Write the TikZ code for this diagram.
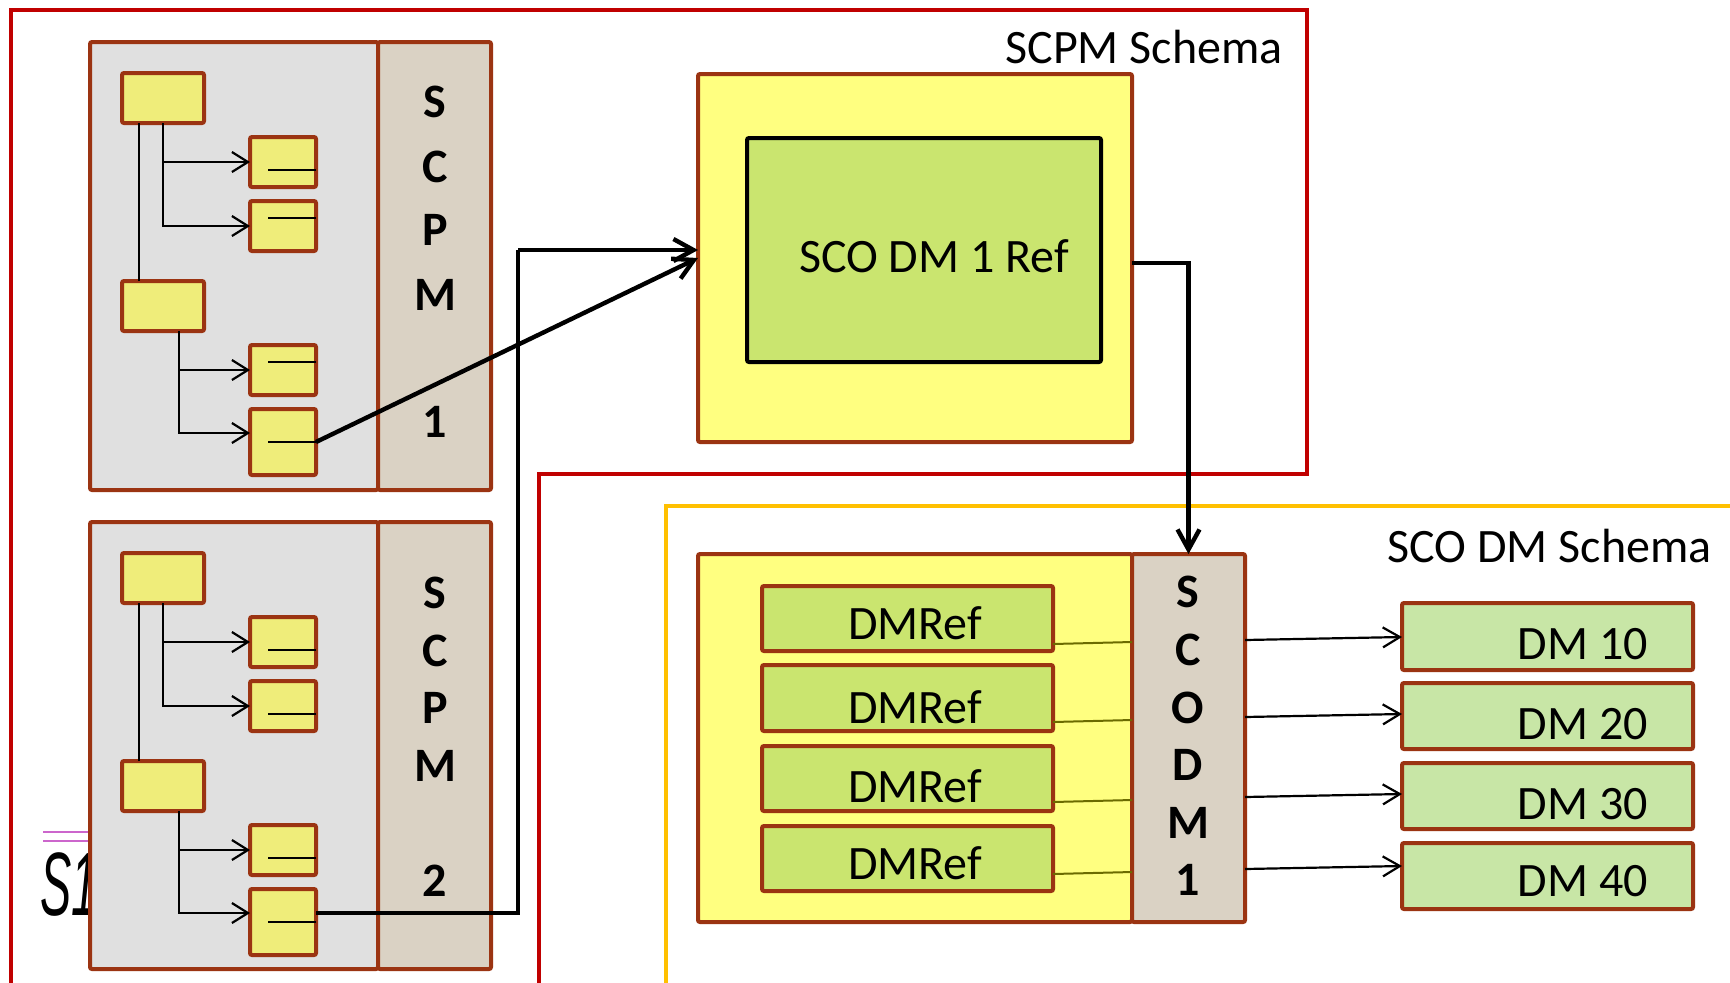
\documentclass[tikz,border=0pt]{standalone}
\usepackage{fontspec}
\setmainfont{Carlito}
\newfontfamily\arialfam{Liberation Sans}
\usetikzlibrary{arrows.meta,fit}

\definecolor{brn}{RGB}{155,52,18}
\definecolor{grayfill}{RGB}{224,224,224}
\definecolor{tanfill}{RGB}{218,210,196}
\definecolor{ysmall}{RGB}{239,237,122}
\definecolor{ybig}{RGB}{255,255,128}
\definecolor{gfill}{RGB}{202,229,111}
\definecolor{dmfill}{RGB}{200,230,166}
\definecolor{redf}{RGB}{192,0,0}
\definecolor{orng}{RGB}{255,192,0}
\definecolor{olv}{RGB}{107,107,0}
\definecolor{pinkln}{RGB}{204,102,204}

% one SCPM tree: #1 prefix, #2 vertical offset, #3..#6 field-mark rows
\newcommand\scpmtree[6]{%
  \node[ybx, fit={(122,{73+#2}) (204,{123+#2})}] (#1a) {};
  \node[ybx, fit={(250,{137+#2}) (316,{187+#2})}] (#1c1) {};
  \node[ybx, fit={(250,{201+#2}) (316,{251+#2})}] (#1c2) {};
  \node[ybx, fit={(122,{281+#2}) (204,{331+#2})}] (#1b) {};
  \node[ybx, fit={(250,{345+#2}) (316,{395+#2})}] (#1c3) {};
  \node[ybx, fit={(250,{409+#2}) (316,{475+#2})}] (#1c4) {};
  \draw[fieldln] (#1c1.east |- 0,{#3+#2}) -- ++(-24pt,0);
  \draw[fieldln] (#1c2.east |- 0,{#4+#2}) -- ++(-24pt,0);
  \draw[fieldln] (#1c3.east |- 0,{#5+#2}) -- ++(-24pt,0);
  \draw[fieldln] (#1c4.east |- 0,{#6+#2}) -- ++(-24pt,0);
  \draw[treeln] (#1a.south -| 139,0) -- (#1b.north -| 139,0);
  \draw[treearr] (#1a.south -| 163,0) |- (#1c1.west);
  \draw[treearr] (#1a.south -| 163,0) |- (#1c2.west);
  \draw[treearr] (#1b.south -| 179,0) |- (#1c3.west);
  \draw[treearr] (#1b.south -| 179,0) |- (#1c4.west |- 0,{433+#2});
}

\begin{document}
\begin{tikzpicture}[x=0.5pt,y=-0.5pt,
  bx/.style={draw=brn, line width=2pt, rounded corners=1pt, inner sep=0pt, outer sep=0pt},
  ybx/.style={bx, fill=ysmall},
  graybx/.style={bx, fill=grayfill},
  tanbx/.style={bx, fill=tanfill},
  fieldln/.style={line width=1.2pt, black},
  treeln/.style={line width=1.1pt, black},
  treearr/.style={treeln, -{Straight Barb[length=8pt,width=10pt]}},
  heavy/.style={line width=2.2pt, black, -{Straight Barb[length=10pt,width=11pt]}},
  slim/.style={line width=1.1pt, black, -{Straight Barb[length=8.5pt,width=10pt]}},
  olvln/.style={line width=1pt, olv},
  lbl/.style={inner sep=0pt, anchor=base, font=\fontsize{24}{28}\selectfont},
  blbl/.style={lbl, font=\fontsize{24}{28}\selectfont\bfseries},
]
\useasboundingbox (0,0) rectangle (1730,982);
\clip (0,0) rectangle (1730,982);
\fill[white] (0,0) rectangle (1730,982);

% schema frames
\draw[redf, line width=2.2pt] (11,1000) -- (11,10) -- (1307,10) -- (1307,474) -- (539,474) -- (539,1000);
\draw[orng, line width=2.2pt] (666,1000) -- (666,506) -- (1750,506);
\node[lbl, anchor=base east] (scpmschema) at (1283,63) {SCPM Schema};
\node[lbl, anchor=base east] (scodmschema) at (1712,562) {SCO DM Schema};

% stray label partly hidden behind SCPM 2
\draw[pinkln, line width=0.8pt] (43,832) -- (92,832);
\draw[pinkln, line width=0.8pt] (43,841) -- (92,841);
\node[inner sep=0pt, anchor=base west, font=\arialfam\itshape\fontsize{45}{50}\selectfont] (stray) at (40,915) {\scalebox{0.52}[1]{S1}};

% SCPM 1
\node[graybx, fit={(90,42) (378,490)}] (scpm1) {};
\node[tanbx, fit={(378,42) (491,490)}] (scpm1col) {};
\foreach \c/\yy [count=\i] in {S/117,C/182,P/245,M/310,1/437}
  \node[blbl] (scpmAl\i) at (435,\yy) {\c};
\scpmtree{p}{0}{170}{218}{362}{442}

% SCPM 2
\node[graybx, fit={(90,522) (378,969)}] (scpm2) {};
\node[tanbx, fit={(378,522) (491,969)}] (scpm2col) {};
\foreach \c/\yy [count=\i] in {S/608,C/666,P/723,M/781,2/896}
  \node[blbl] (scpmBl\i) at (435,\yy) {\c};
\scpmtree{q}{480}{170}{234}{378}{442}

% SCO DM 1 Ref
\node[bx, fill=ybig, fit={(698,74) (1132,442)}] (ybig) {};
\node[draw=black, line width=2pt, rounded corners=1pt, fill=gfill, inner sep=0pt, outer sep=0pt, fit={(747,138) (1101,362)}] (refbox) {};
\node[lbl] (reftxt) at (934,272) {SCO DM 1 Ref};

% SCO DM 1
\node[bx, fill=ybig, fit={(698,554) (1132,922)}] (scodm) {};
\node[tanbx, fit={(1132,554) (1245,922)}] (dcol) {};
\foreach \c/\yy [count=\i] in {S/607,C/665,O/723,D/780,M/838,1/895}
  \node[blbl] (dcolL\i) at (1188,\yy) {\c};
\foreach \i/\ya/\yb in {1/586/651,2/665/731,3/746/811,4/826/891}
  \node[bx, fill=gfill, fit={(762,\ya) (1053,\yb)}] (r\i) {};
\foreach \i/\yy in {1/639,2/723,3/802,4/879}
  \node[lbl] (rt\i) at (915,\yy) {DMRef};
\foreach \i/\ya/\yb in {1/644/642,2/722/720,3/802/800,4/874/872}
  \draw[olvln] (r\i.east |- 0,\ya) -- (dcol.west |- 0,\yb);

% DM boxes
\foreach \i/\ya/\yb in {1/603/670,2/683/749,3/763/829,4/843/909}
  \node[bx, fill=dmfill, fit={(1402,\ya) (1693,\yb)}] (d\i) {};
\foreach \i/\n/\yy in {1/10/659,2/20/739,3/30/819,4/40/896}
  \node[lbl] (dt\i) at (1583,\yy) {DM \n};
\foreach \i/\ya/\yb in {1/640/637,2/717/714,3/797/794,4/869/866}
  \draw[slim] (dcol.east |- 0,\ya) -- (d\i.west |- 0,\yb);

% references between the schemas
\coordinate (bend) at (518,250);
\draw[heavy] (pc4.east |- 0,442) -- (ybig.west);
\draw[heavy, -] (qc4.east |- 0,913) -| (bend);
\draw[heavy] (bend) -- (ybig.west |- bend);
\draw[heavy] (ybig.east |- 0,263) -| (dcol.north);
\end{tikzpicture}
\end{document}
